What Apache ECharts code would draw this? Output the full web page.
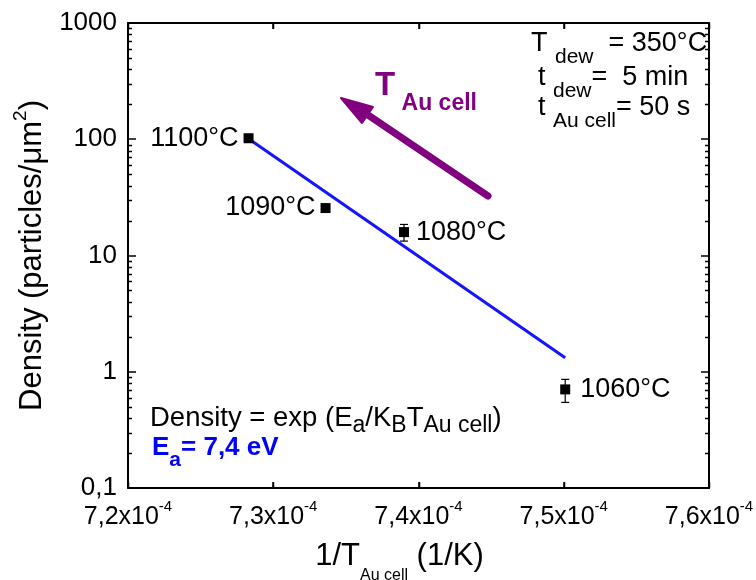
<!DOCTYPE html>
<html><head><meta charset="utf-8">
<script src="https://cdn.jsdelivr.net/npm/echarts@6/dist/echarts.min.js"></script>
<style>html,body{margin:0;padding:0;background:#fff}#c{width:756px;height:580px}</style>
</head><body><div id="c"></div>
<script>
// ---- data ----
const tempLabels = ['1100°C', '1090°C', '1080°C', '1060°C'];
const invT = [7.283, 7.336, 7.390, 7.501];      // 1/T_Au cell, in units of 1e-4 1/K
const density = [102, 25.6, 15.9, 0.705];       // particles/µm²
const errLow = [null, null, 13.3, 0.545];
const errHigh = [null, null, 18.5, 0.86];
const labelSide = ['left', 'left', 'right', 'right'];
const fitX = [7.283, 7.501];
const fitY = [101, 1.32];
const xTicks = [7.2, 7.3, 7.4, 7.5, 7.6];
const yTicks = [0.1, 1, 10, 100, 1000];
const yMinorTicks = [0.2,0.3,0.4,0.5,0.6,0.7,0.8,0.9, 2,3,4,5,6,7,8,9, 20,30,40,50,60,70,80,90, 200,300,400,500,600,700,800,900];

const FF = 'Liberation Sans, Arial, sans-serif';
const chart = echarts.init(document.getElementById('c'), null, {renderer: 'canvas'});

const axisLineStyle = {color: '#000', width: 2};
function xAx(pos, showLabel) {
  return {
    type: 'value', position: pos, min: xTicks[0], max: xTicks[xTicks.length - 1], interval: 0.1,
    axisLine: {show: true, onZero: false, lineStyle: axisLineStyle},
    axisTick: {show: true, inside: true, length: 6, lineStyle: {color: '#000', width: 1.5}},
    splitLine: {show: false},
    axisLabel: showLabel ? {
      show: true, margin: 11, color: '#000', fontFamily: FF,
      formatter: v => '{a|' + v.toFixed(1).replace('.', ',') + 'x10}{s|-4}',
      rich: {a: {fontSize: 25, fontFamily: FF, color: '#000'}, s: {fontSize: 15, fontFamily: FF, color: '#000', padding: [0, 0, 22, 0]}}
    } : {show: false}
  };
}
function yAx(pos, showLabel) {
  return {
    type: 'log', logBase: 10, position: pos, min: yTicks[0], max: yTicks[yTicks.length - 1],
    axisLine: {show: true, onZero: false, lineStyle: axisLineStyle},
    axisTick: {show: true, inside: true, length: 8, lineStyle: {color: '#000', width: 1.5}},
    splitLine: {show: false},
    axisLabel: showLabel ? {
      show: true, margin: 11, color: '#000', fontSize: 26, fontFamily: FF,
      formatter: v => String(Number(v.toPrecision(3))).replace('.', ',')
    } : {show: false}
  };
}

const xMain = xAx('bottom', true);
xMain.name = '{m|1/T}{s|Au cell}{m| (1/K)}';
xMain.nameLocation = 'middle';
xMain.nameGap = 40;
xMain.nameTextStyle = {color: '#000', fontFamily: FF, padding: [0, 38, 0, 0], rich: {
  m: {fontSize: 31, fontFamily: FF, color: '#000'},
  s: {fontSize: 16, fontFamily: FF, color: '#000', padding: [40, 0, 0, 0]}}};

const yMain = yAx('left', true);
yMain.name = '{m|Density (particles/μm}{s|2}{m|)}';
yMain.nameLocation = 'middle';
yMain.nameRotate = 90;
yMain.nameGap = 74;
yMain.nameTextStyle = {color: '#000', fontFamily: FF, rich: {
  m: {fontSize: 31, fontFamily: FF, color: '#000'},
  s: {fontSize: 19, fontFamily: FF, color: '#000', padding: [0, 0, 24, 0]}}};

const labelBase = {show: true, color: '#000', fontSize: 27, fontFamily: FF, textBorderWidth: 0, opacity: 1};
const scatterData = invT.map((x, i) => ({
  value: [x, density[i]],
  label: Object.assign({}, labelBase, {position: labelSide[i], distance: (i === 3 ? 10 : (i === 2 ? 7 : 5)), formatter: tempLabels[i]})
}));

const errData = invT.map((x, i) => [x, errLow[i], errHigh[i]]).filter(d => d[1] != null);
const minorData = yMinorTicks.map(v => [xTicks[0], v]);
const xTickData = xTicks.map(v => [v, yTicks[0]]);

const tickStyle = {stroke: '#000', lineWidth: 1.5};
const option = {
  backgroundColor: '#fff',
  animation: false,
  textStyle: {color: '#000', fontFamily: FF},
  grid: {left: 128, right: 47, top: 23, bottom: 92, containLabel: false, outerBoundsMode: 'none'},
  xAxis: [xMain, xAx('top', false)],
  yAxis: [yMain, yAx('right', false)],
  series: [
    // minor log ticks, inside, on left and right frame
    {type: 'custom', data: minorData, z: 5, silent: true, clip: false,
     renderItem: (params, api) => {
       const p = api.coord([api.value(0), api.value(1)]);
       const cs = params.coordSys;
       const yy = Math.round(p[1]) + 0.5;
       return {type: 'group', children: [
         {type: 'line', shape: {x1: cs.x, y1: yy, x2: cs.x + 4, y2: yy}, style: tickStyle},
         {type: 'line', shape: {x1: cs.x + cs.width - 4, y1: yy, x2: cs.x + cs.width, y2: yy}, style: tickStyle}
       ]};
     }},
    // major x ticks, inside, on bottom and top frame
    {type: 'custom', data: xTickData, z: 5, silent: true, clip: false,
     renderItem: (params, api) => {
       const p = api.coord([api.value(0), api.value(1)]);
       const cs = params.coordSys;
       const xx = Math.round(p[0]) + 0.5;
       return {type: 'group', children: [
         {type: 'line', shape: {x1: xx, y1: cs.y + cs.height, x2: xx, y2: cs.y + cs.height - 6}, style: tickStyle},
         {type: 'line', shape: {x1: xx, y1: cs.y, x2: xx, y2: cs.y + 6}, style: tickStyle}
       ]};
     }},
    {type: 'line', data: fitX.map((x, i) => [x, fitY[i]]), showSymbol: false, symbol: 'none',
     lineStyle: {color: '#1414ff', width: 3}, z: 2, silent: true},
    {type: 'custom', data: errData, z: 3,
     renderItem: (params, api) => {
       const p1 = api.coord([api.value(0), api.value(1)]);
       const p2 = api.coord([api.value(0), api.value(2)]);
       const w = 4;
       const st = {stroke: '#000', lineWidth: 1.2};
       return {type: 'group', children: [
         {type: 'line', shape: {x1: p1[0], y1: p1[1], x2: p2[0], y2: p2[1]}, style: st},
         {type: 'line', shape: {x1: p1[0] - w, y1: p1[1], x2: p1[0] + w, y2: p1[1]}, style: st},
         {type: 'line', shape: {x1: p2[0] - w, y1: p2[1], x2: p2[0] + w, y2: p2[1]}, style: st}
       ]};
     }},
    {type: 'scatter', data: scatterData, symbol: 'rect', symbolSize: 10, itemStyle: {color: '#000', opacity: 1},
     label: labelBase, emphasis: {disabled: true}, z: 4}
  ],
  graphic: [
    // arrow
    {type: 'polyline', shape: {points: [[488, 196], [368, 115]]}, style: {stroke: '#800080', lineWidth: 7, lineCap: 'round'}},
    {type: 'polygon', shape: {points: [[341, 98], [373, 107], [362, 123]]}, style: {fill: '#800080', stroke: '#800080', lineWidth: 2, lineJoin: 'round'}},
    {type: 'text', x: 375, y: 86, style: {text: '{T|T}{s| Au cell}', verticalAlign: 'middle', align: 'left',
      rich: {T: {fontSize: 33, fontWeight: 'bold', fontFamily: FF, fill: '#800080'},
             s: {fontSize: 23, fontWeight: 'bold', fontFamily: FF, fill: '#800080', padding: [36, 0, 0, 0]}}}},
    // parameters, top right
    {type: 'text', x: 531, y: 44, style: {text: '{m|T }{s|dew}{m|  = 350°C}', verticalAlign: 'middle', align: 'left',
      rich: {m: {fontSize: 27, fontFamily: FF, fill: '#000'}, s: {fontSize: 21, fontFamily: FF, fill: '#000', padding: [26, 0, 0, 0]}}}},
    {type: 'text', x: 538, y: 78, style: {text: '{m|t }{s|dew}{m|=  5 min}', verticalAlign: 'middle', align: 'left',
      rich: {m: {fontSize: 27, fontFamily: FF, fill: '#000'}, s: {fontSize: 21, fontFamily: FF, fill: '#000', padding: [26, 0, 0, 0]}}}},
    {type: 'text', x: 538, y: 108, style: {text: '{m|t }{s|Au cell}{m|= 50 s}', verticalAlign: 'middle', align: 'left',
      rich: {m: {fontSize: 27, fontFamily: FF, fill: '#000'}, s: {fontSize: 21, fontFamily: FF, fill: '#000', padding: [26, 0, 0, 0]}}}},
    // equation
    {type: 'text', x: 150, y: 418, style: {text: '{m|Density = exp (E}{s|a}{m|/K}{s|B}{m|T}{s|Au cell}{m|)}', verticalAlign: 'middle', align: 'left',
      rich: {m: {fontSize: 27.5, fontFamily: FF, fill: '#000'}, s: {fontSize: 23, fontFamily: FF, fill: '#000', padding: [16, 0, 0, 0]}}}},
    {type: 'text', x: 152, y: 448, style: {text: '{m|E}{s|a}{m|= 7,4 eV}', verticalAlign: 'middle', align: 'left',
      rich: {m: {fontSize: 26, fontWeight: 'bold', fontFamily: FF, fill: '#0000ff'}, s: {fontSize: 21, fontWeight: 'bold', fontFamily: FF, fill: '#0000ff', padding: [24, 0, 0, 0]}}}}
  ]
};
chart.setOption(option);
</script></body></html>
